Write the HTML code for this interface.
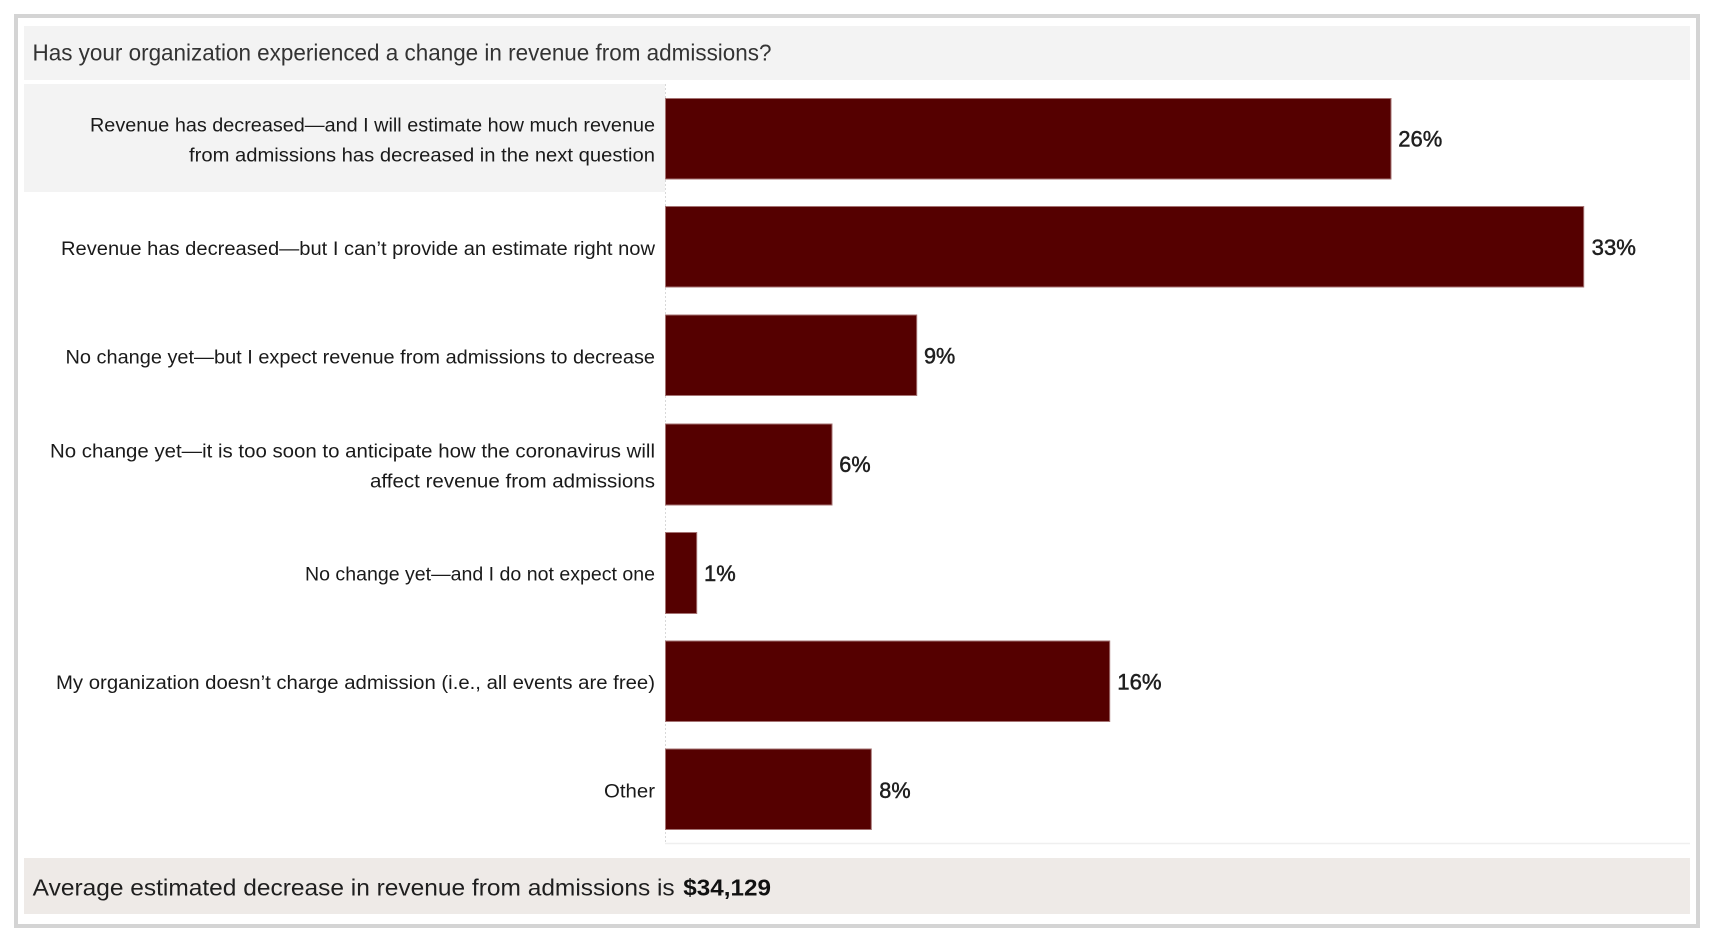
<!DOCTYPE html>
<html>
<head>
<meta charset="utf-8">
<style>
  html, body { margin: 0; padding: 0; background: #ffffff; }
  body { width: 1712px; height: 944px; overflow: hidden; }
  svg { display: block; }
  text { font-family: "Liberation Sans", "DejaVu Sans", sans-serif; }
</style>
</head>
<body>
<svg width="1712" height="944" viewBox="0 0 1712 944" xmlns="http://www.w3.org/2000/svg">
  <!-- outer frame -->
  <rect x="0" y="0" width="1712" height="944" fill="#ffffff"/>
  <rect x="16" y="16" width="1682" height="910" fill="#ffffff" stroke="#d4d4d4" stroke-width="4"/>

  <!-- title box -->
  <rect x="24" y="26" width="1666" height="54" fill="#f3f3f3"/>
  <text x="32.5" y="60.3" font-size="23" fill="#333333" textLength="739" lengthAdjust="spacingAndGlyphs">Has your organization experienced a change in revenue from admissions?</text>

  <!-- highlighted first row -->
  <rect x="24" y="84" width="641" height="108" fill="#f3f3f3"/>

  <!-- axis line & gridline -->
  <line x1="665.5" y1="84" x2="665.5" y2="843" stroke="#d8d8d8" stroke-width="1" stroke-dasharray="2,2"/>
  <line x1="665" y1="843.5" x2="1690" y2="843.5" stroke="#efefef" stroke-width="1.5"/>

  <!-- bars -->
  <g fill="#550000" stroke="#a47272" stroke-width="1">
    <rect x="665.5" y="98.5" width="725.5" height="80.5"/>
    <rect x="665.5" y="206.5" width="918.2" height="80.5"/>
    <rect x="665.5" y="315" width="251.2" height="80.5"/>
    <rect x="665.5" y="424" width="166.5" height="81"/>
    <rect x="665.5" y="532.5" width="31.2" height="81"/>
    <rect x="665.5" y="641" width="444.2" height="80.5"/>
    <rect x="665.5" y="749" width="205.8" height="80.5"/>
  </g>

  <!-- value labels -->
  <g font-size="22" fill="#1f1f1f" stroke="#1f1f1f" stroke-width="0.5">
    <text x="1398.3" y="146.7" textLength="44" lengthAdjust="spacingAndGlyphs">26%</text>
    <text x="1591.7" y="254.8" textLength="44.3" lengthAdjust="spacingAndGlyphs">33%</text>
    <text x="924" y="363.3" textLength="31.3" lengthAdjust="spacingAndGlyphs">9%</text>
    <text x="839.3" y="472.2" textLength="31.3" lengthAdjust="spacingAndGlyphs">6%</text>
    <text x="704" y="580.8" textLength="31.7" lengthAdjust="spacingAndGlyphs">1%</text>
    <text x="1117.3" y="689.3" textLength="44.3" lengthAdjust="spacingAndGlyphs">16%</text>
    <text x="879.3" y="797.8" textLength="31.3" lengthAdjust="spacingAndGlyphs">8%</text>
  </g>

  <!-- category labels -->
  <g font-size="19" fill="#1a1a1a" text-anchor="end">
    <text x="655" y="131.5" textLength="565" lengthAdjust="spacingAndGlyphs">Revenue has decreased—and I will estimate how much revenue</text>
    <text x="655" y="161.5" textLength="466" lengthAdjust="spacingAndGlyphs">from admissions has decreased in the next question</text>
    <text x="655" y="254.8" textLength="594" lengthAdjust="spacingAndGlyphs">Revenue has decreased—but I can’t provide an estimate right now</text>
    <text x="655" y="363.3" textLength="589.5" lengthAdjust="spacingAndGlyphs">No change yet—but I expect revenue from admissions to decrease</text>
    <text x="655" y="457.3" textLength="605" lengthAdjust="spacingAndGlyphs">No change yet—it is too soon to anticipate how the coronavirus will</text>
    <text x="655" y="487.3" textLength="285" lengthAdjust="spacingAndGlyphs">affect revenue from admissions</text>
    <text x="655" y="580.3" textLength="350" lengthAdjust="spacingAndGlyphs">No change yet—and I do not expect one</text>
    <text x="655" y="688.8" textLength="599" lengthAdjust="spacingAndGlyphs">My organization doesn’t charge admission (i.e., all events are free)</text>
    <text x="655" y="797.3" textLength="51" lengthAdjust="spacingAndGlyphs">Other</text>
  </g>

  <!-- footer -->
  <rect x="24" y="858" width="1666" height="56" fill="#eeeae7"/>
  <text x="32.7" y="895.7" font-size="23" fill="#1f1f1f" textLength="642" lengthAdjust="spacingAndGlyphs">Average estimated decrease in revenue from admissions is</text>
  <text x="683.3" y="895.7" font-size="23" font-weight="bold" fill="#111111" textLength="87.7" lengthAdjust="spacingAndGlyphs">$34,129</text>
</svg>
</body>
</html>
